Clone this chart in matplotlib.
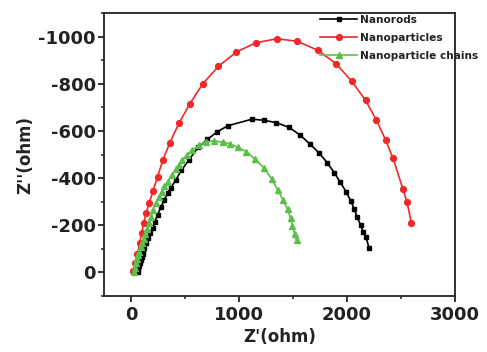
import matplotlib
matplotlib.use('Agg')
import matplotlib.pyplot as plt
from matplotlib.ticker import MultipleLocator

plt.rcParams['font.family'] = ['DejaVu Sans']
plt.rcParams['axes.unicode_minus'] = False

# Nanorods (black squares)
rods_x = [61, 69, 77, 85, 92, 100, 108, 115, 123, 138, 154, 175, 200, 221, 246, 276, 307, 338, 369, 415,
          467, 537, 620, 707, 797, 897, 1121, 1235, 1346, 1465, 1567, 1659, 1745, 1818, 1883, 1935,
          1991, 2034, 2068, 2095, 2126, 2150, 2175, 2206]
rods_y = [-4, -16, -28, -41, -54, -66, -79, -91, -103, -124, -145, -166, -188, -216, -244, -276, -307, -336, -360, -392,
          -434, -477, -530, -564, -596, -622, -650, -645, -635, -615, -582, -544, -505, -465, -423, -385,
          -343, -305, -268, -234, -202, -173, -152, -103]

# Nanoparticles (red circles)
part_x = [20, 40, 60, 80, 100, 117, 140, 169, 205, 246, 295, 360, 443, 546, 665, 810, 977, 1157, 1353, 1542,
          1730, 1899, 2046, 2172, 2273, 2359, 2427, 2519, 2556, 2596]
part_y = [-5, -40, -80, -125, -168, -209, -250, -295, -347, -406, -477, -550, -632, -716, -800, -874, -935, -974, -991, -980,
          -942, -885, -810, -730, -646, -561, -484, -353, -299, -211]

# Nanoparticle chains (green triangles)
chain_x = [28, 38, 48, 58, 68, 78, 90, 102, 116, 130, 147, 165, 184, 206, 230, 256, 283, 310, 338, 375,
           415, 445, 476, 520, 568, 630, 691, 768, 854, 920, 990, 1069, 1152, 1235, 1306, 1358, 1407, 1450,
           1478, 1495, 1515, 1533]
chain_y = [-3, -20, -38, -55, -72, -88, -106, -124, -143, -162, -185, -210, -237, -265, -293, -318, -343, -365, -385, -412,
           -437, -457, -477, -500, -519, -540, -554, -558, -552, -545, -530, -512, -479, -441, -395, -350, -308, -267,
           -230, -196, -165, -136]

yticks = [0, -200, -400, -600, -800, -1000]
xticks = [0, 1000, 2000, 3000]

fig = plt.figure(figsize=(4.87, 3.52), dpi=100)
ax = fig.add_axes([0.2136, 0.159, 0.7205, 0.804])

ax.plot(rods_x, rods_y, '-s', color='black', lw=1.2, ms=3.2, label='Nanorods')
ax.plot(part_x, part_y, '-o', color='#f02828', lw=1.2, ms=4.2, label='Nanoparticles')
ax.plot(chain_x, chain_y, '-^', color='#5cbf4c', lw=1.2, ms=4.4, label='Nanoparticle chains')

ax.set_xlim(-250, 3000)
ax.set_ylim(100, -1100)
ax.set_xticks(xticks)
ax.set_yticks(yticks)
ax.xaxis.set_minor_locator(MultipleLocator(500))
ax.yaxis.set_minor_locator(MultipleLocator(100))

for s in ax.spines.values():
    s.set_linewidth(1.3)
    s.set_color('#222222')
ax.tick_params(which='major', direction='out', length=4.5, width=1.3, labelsize=13, colors='#222222')
ax.tick_params(which='minor', direction='out', length=2.5, width=1.1, colors='#222222')
ax.tick_params(axis='y', which='major', pad=1.5)
ax.tick_params(axis='x', which='major', pad=2.5)
for lab in ax.get_xticklabels() + ax.get_yticklabels():
    lab.set_fontweight('bold')

ax.set_xlabel("Z'(ohm)", fontsize=12, fontweight='bold', color='#222222', labelpad=3)
ax.set_ylabel("Z''(ohm)", fontsize=12, fontweight='bold', color='#222222', labelpad=3)

leg = ax.legend(loc='upper left', bbox_to_anchor=(0.61, 1.0), frameon=False,
                fontsize=7.6, handlelength=3.5, handletextpad=0.3, labelspacing=0.75,
                borderpad=0.2, borderaxespad=0)
for t in leg.get_texts():
    t.set_fontweight('bold')
    t.set_color('#222222')

plt.savefig('out.png', dpi=100)
plt.close()
